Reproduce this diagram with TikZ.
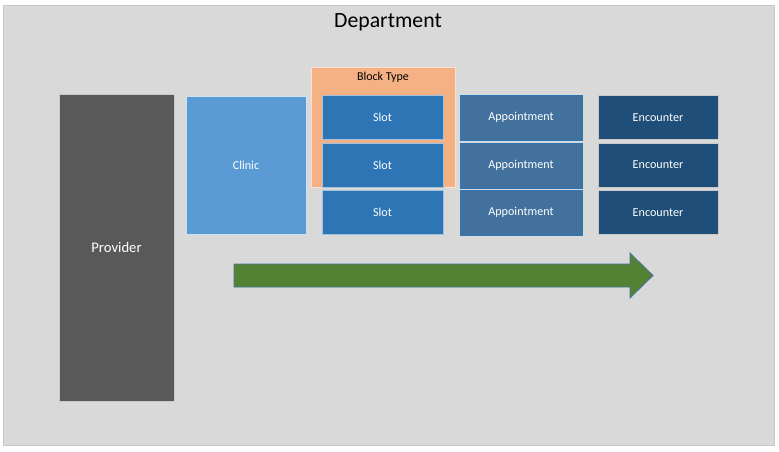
\documentclass[tikz,border=0pt]{standalone}
\usepackage{fontspec}
\setmainfont{Carlito}
\definecolor{bg}{HTML}{D9D9D9}
\definecolor{bgedge}{HTML}{C8C8C8}
\definecolor{prov}{HTML}{595959}
\definecolor{clinic}{HTML}{5B9BD5}
\definecolor{block}{HTML}{F4B183}
\definecolor{slot}{HTML}{2E75B6}
\definecolor{appt}{HTML}{41719C}
\definecolor{enc}{HTML}{1F4E79}
\definecolor{arrowfill}{HTML}{548235}
\definecolor{arrowedge}{HTML}{41719C}
\begin{document}
\begin{tikzpicture}[x=0.75pt,y=-0.75pt,
  box/.style n args={2}{rectangle, inner sep=0pt, minimum width=#1*0.75pt, minimum height=#2*0.75pt, font=\fontsize{9.1}{11}\selectfont, text=white},
  provbox/.style={box={115}{307}, fill=prov, draw=bgedge, line width=0.5pt, font=\fontsize{11}{13}\selectfont},
  clinicbox/.style={box={120}{138}, fill=clinic, draw=white!70!clinic, line width=0.5pt},
  blockbox/.style={box={144}{120}, fill=block, draw=white!60!block, line width=0.5pt, text=black},
  slotbox/.style={box={121}{44}, fill=slot, draw=white!55!slot, line width=0.5pt},
  apptbox/.style={box={122}{45}, fill=appt, draw=slot, line width=0.5pt},
  encbox/.style={box={120}{44}, fill=enc, draw=bgedge, line width=0.5pt}
]
\useasboundingbox (0,0) rectangle (779,451);
\node[rectangle, inner sep=0pt, fill=bg, draw=bgedge, line width=0.6pt, minimum width=771*0.75pt, minimum height=440*0.75pt] (dept) at (388.5,225) {};
\node[font=\fontsize{16.3}{19}\selectfont, text=black] (title) at (388,22.5) {Department};
\node[provbox] (prov) at (116.5,247.5) {Provider};
\node[clinicbox] (clinic) at (246,165) {Clinic};
\node[blockbox] (block) at (383,127) {};
\node[font=\fontsize{9}{11}\selectfont, text=black] (blocklbl) at (383,77.5) {Block Type};
\node[slotbox] (s1) at (382.5,117) {Slot};
\node[slotbox] (s2) at (382.5,165) {Slot};
\node[slotbox] (s3) at (382.5,212.5) {Slot};
\node[apptbox] (a1) at (521,117.5) {Appointment};
\node[apptbox] (a2) at (521,165.5) {Appointment};
\node[apptbox] (a3) at (521,212.5) {Appointment};
\node[encbox] (e1) at (658,117.5) {Encounter};
\node[encbox] (e2) at (658,165) {Encounter};
\node[encbox] (e3) at (658,212.5) {Encounter};
\coordinate (arrtail) at (234,275.5);
\coordinate (arrtip) at (653,275.5);
\fill[arrowfill] (234,264) -- (630,264) -- (630,253) -- (653,275.5) -- (630,298) -- (630,287) -- (234,287) -- cycle;
\draw[arrowedge, line width=0.6pt, line join=miter] (234,264) -- (630,264) -- (630,253) -- (arrtip) -- (630,298) -- (630,287) -- (234,287) -- cycle;
\end{tikzpicture}
\end{document}
